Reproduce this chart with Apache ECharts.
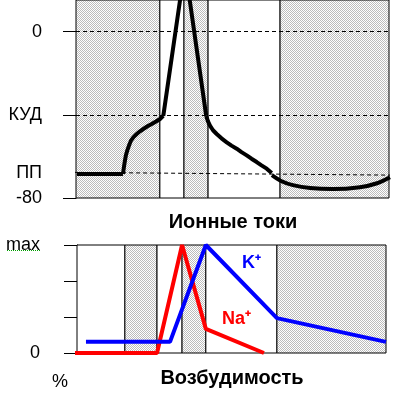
<!DOCTYPE html>
<html><head><meta charset="utf-8">
<script src="https://cdn.jsdelivr.net/npm/echarts@6/dist/echarts.min.js"></script>
<style>html,body{margin:0;padding:0;background:#fff}#c{width:396px;height:400px}</style>
</head><body><div id="c"></div><script>
// ---- data (time in arbitrary units 0..100, potential in mV) ----
const apFlat  = [[0.3,-68.5],[15.0,-68.5]];
const apRise  = [[15.0,-68.5],[15.34,-64.8],[15.65,-61.9],[15.97,-59.3],[16.39,-57.1],[16.93,-54.8],[17.57,-52.4],[18.37,-50.7],[19.39,-49.2],[20.45,-47.9],[21.5,-46.8],[22.84,-45.5],[24.19,-44.4],[25.56,-43.2],[26.84,-42.0],[27.89,-40.5]];
const apSpike = [[27.89,-40.5],[34.8,31.4],[41.6,-40.5]];
const apDecay = [[41.6,-40.5],[42.17,-43.1],[42.81,-45.2],[43.77,-47.4],[44.95,-49.2],[46.49,-51.3],[48.15,-53.2],[49.68,-54.8],[51.34,-56.3],[52.88,-57.95],[54.54,-59.5],[56.07,-61.1],[57.73,-62.7],[59.27,-64.3],[60.93,-65.9],[62.52,-68.0]];
const apHyper = [[62.6,-69.0],[65.5,-71.8],[69.3,-73.8],[74.8,-75.2],[82.1,-75.7],[90.7,-74.8],[96.2,-72.9],[100.3,-70.0]];
const restLevel = [[-5.4,-67.6],[101,-69.0]];
const apDashedLevels = [0,-40];
const apTickValues  = [0,-40,-80];
const apLabelValues = [0,-40,-68,-80];
const apLabelNames  = ['0','КУД','ПП','-80'];
const apBounds  = [0,26.8,34.5,42.2,65.2,100];
const apShaded  = [true,false,true,false,true];

const naCurrent = [[-1,0],[25.9,0],[34.0,3],[41.7,0.67],[60.5,0]];
const kCurrent  = [[2.9,0.31],[30.1,0.31],[41.7,3],[64.7,0.97],[100,0.31]];
const ionTickLabels = ['0','','','max'];
const ionBounds = [0,15.5,25.9,34.0,41.7,64.7,100];
const ionShaded = [false,true,false,true,false,true];

// ---- pattern ----
const pc = document.createElement('canvas'); pc.width = 2; pc.height = 2;
const g = pc.getContext('2d');
g.fillStyle = '#ffffff'; g.fillRect(0,0,2,2);
g.fillStyle = '#bcbcbc'; g.fillRect(0,0,1,1); g.fillRect(1,1,1,1);
const grey = {image: pc, repeat: 'repeat'};

function areas(bounds, shaded){
  const out = [];
  for (let i = 0; i < shaded.length; i++){
    out.push([{xAxis: bounds[i], itemStyle:{color: shaded[i] ? grey : '#fff', borderColor:'#000', borderWidth:1}}, {xAxis: bounds[i+1]}]);
  }
  return out;
}
const FONT = '"Liberation Sans", Arial, sans-serif';
const blackLine = {color:'#000', width:4, join:'round'};

const chart = echarts.init(document.getElementById('c'), null, {renderer:'canvas'});
chart.setOption({
  animation:false,
  grid:[
    {left:76, right:7, top:-2, bottom:202},
    {left:77, right:10, top:245, bottom:47}
  ],
  xAxis:[
    {gridIndex:0, type:'value', min:0, max:100, show:false},
    {gridIndex:1, type:'value', min:0, max:100, show:false}
  ],
  yAxis:[
    {gridIndex:0, type:'value', min:-80, max:15.25, offset:11,
     axisLine:{show:true, lineStyle:{color:'#000', width:1}},
     axisTick:{show:true, length:13, lineStyle:{color:'#000'}, customValues: apTickValues},
     axisLabel:{show:true, margin:23, color:'#000', fontSize:18, fontFamily:FONT, customValues: apLabelValues,
       formatter: v => { const i = apLabelValues.indexOf(Math.round(v)); return i>=0 ? apLabelNames[i] : ''; }},
     splitLine:{show:false}},
    {gridIndex:1, type:'value', min:0, max:3, interval:1, offset:15,
     axisLine:{show:true, lineStyle:{color:'#000', width:1}},
     axisTick:{show:true, length:13, lineStyle:{color:'#000'}},
     axisLabel:{show:true, margin:22, color:'#000', fontSize:18, fontFamily:FONT,
       formatter: v => ionTickLabels[Math.round(v)] || ''},
     splitLine:{show:false}}
  ],
  series:[
    {type:'line', xAxisIndex:0, yAxisIndex:0, data:[], z:1, silent:true,
     markArea:{silent:true, data: areas(apBounds, apShaded)},
     markLine:{silent:true, symbol:'none', label:{show:false},
       lineStyle:{color:'#000', width:1, type:[4,3]},
       data: apDashedLevels.map(v => ({yAxis:v}))}},
    {type:'line', xAxisIndex:0, yAxisIndex:0, data: restLevel, z:2, clip:false, symbol:'none',
     lineStyle:{color:'#000', width:1, type:[4,3]}},
    {type:'line', xAxisIndex:0, yAxisIndex:0, data: apFlat, z:3, symbol:'none', lineStyle:blackLine},
    {type:'line', xAxisIndex:0, yAxisIndex:0, data: apRise, z:3, symbol:'none', lineStyle:blackLine},
    {type:'line', xAxisIndex:0, yAxisIndex:0, data: apSpike, z:3, symbol:'none', clip:true, lineStyle:blackLine},
    {type:'line', xAxisIndex:0, yAxisIndex:0, data: apDecay, z:3, symbol:'none', lineStyle:blackLine},
    {type:'line', xAxisIndex:0, yAxisIndex:0, data: apHyper, z:3, symbol:'none', smooth:0.3, clip:false, lineStyle:blackLine},

    {type:'line', xAxisIndex:1, yAxisIndex:1, data:[], z:1, silent:true,
     markArea:{silent:true, data: areas(ionBounds, ionShaded)}},
    {type:'line', name:'Na+', xAxisIndex:1, yAxisIndex:1, data: naCurrent, z:3, symbol:'none', clip:false,
     lineStyle:{color:'#ff0000', width:4}},
    {type:'line', name:'K+', xAxisIndex:1, yAxisIndex:1, data: kCurrent, z:4, symbol:'none', clip:false,
     lineStyle:{color:'#0000ff', width:4}}
  ],
  graphic:[
    {type:'text', z:100, x:233, y:222, style:{text:'Ионные токи', font:'bold 20px '+FONT, fill:'#000', align:'center', verticalAlign:'middle', textAlign:'center', textVerticalAlign:'middle'}},
    {type:'text', z:100, x:232, y:378, style:{text:'Возбудимость', font:'bold 20px '+FONT, fill:'#000', align:'center', verticalAlign:'middle', textAlign:'center', textVerticalAlign:'middle'}},
    {type:'text', z:100, x:52, y:382, style:{text:'%', font:'18px '+FONT, fill:'#000', align:'left', verticalAlign:'middle', textAlign:'left', textVerticalAlign:'middle'}},
    {type:'text', z:100, x:242, y:263, style:{text:'K⁺', font:'bold 18px '+FONT, fill:'#0000ff', align:'left', verticalAlign:'middle', textAlign:'left', textVerticalAlign:'middle'}},
    {type:'text', z:100, x:222, y:319, style:{text:'Na⁺', font:'bold 18px '+FONT, fill:'#ff0000', align:'left', verticalAlign:'middle', textAlign:'left', textVerticalAlign:'middle'}},
    {type:'line', z:100, shape:{x1:7, y1:250.5, x2:40, y2:250.5}, style:{stroke:'#00a000', lineWidth:1, lineDash:[1,1]}}
  ]
});
</script></body></html>
